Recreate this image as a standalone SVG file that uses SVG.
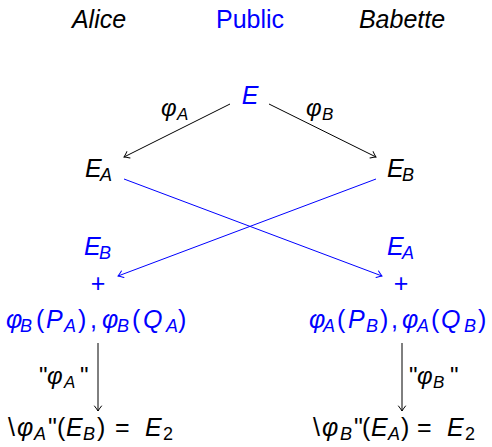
<svg xmlns="http://www.w3.org/2000/svg" width="492" height="447" viewBox="0 0 492 447">
<defs>
<marker id="ak" viewBox="-6 -5 8 10" markerWidth="8" markerHeight="10" refX="0" refY="0" orient="auto" markerUnits="userSpaceOnUse">
<path d="M-5,-3.5 Q-1.5,-0.8 0,0 Q-1.5,0.8 -5,3.5" fill="none" stroke="#000" stroke-width="1" stroke-linecap="round"/>
</marker>
<marker id="ab" viewBox="-6 -5 8 10" markerWidth="8" markerHeight="10" refX="0" refY="0" orient="auto" markerUnits="userSpaceOnUse">
<path d="M-5,-3.5 Q-1.5,-0.8 0,0 Q-1.5,0.8 -5,3.5" fill="none" stroke="#0000ff" stroke-width="1" stroke-linecap="round"/>
</marker>
</defs>
<style>
text{font-family:"Liberation Sans",Arial,sans-serif;font-size:25px}
.t{font-style:italic}
.m{font-style:italic}
.blue{fill:#0000ff}
.lbl{font-size:24px;font-style:italic}
.s{font-size:18px}
.ls{font-size:17px}
.u{font-style:normal}
.k{stroke:#000;stroke-width:1;fill:none}
.b{stroke:#0000ff;stroke-width:1;fill:none}
</style>
<rect width="492" height="447" fill="#fff"/>
<g id="headers">
<text class="t" x="99" y="28" text-anchor="middle">Alice</text>
<text class="blue" x="250" y="28" text-anchor="middle">Public</text>
<text class="t" x="402" y="28" text-anchor="middle">Babette</text>
</g>
<g id="connectors">
<line class="k" x1="230" y1="104" x2="124" y2="157" marker-end="url(#ak)"/>
<line class="k" x1="269" y1="104" x2="376" y2="157" marker-end="url(#ak)"/>
<line class="b" x1="124" y1="179" x2="382" y2="276" marker-end="url(#ab)"/>
<line class="b" x1="376" y1="179" x2="118" y2="276" marker-end="url(#ab)"/>
<line class="k" x1="98" y1="343" x2="98" y2="411" marker-end="url(#ak)"/>
<line class="k" x1="402" y1="343" x2="402" y2="411" marker-end="url(#ak)"/>
</g>
<g id="edge-labels">
<text class="lbl" y="116"><tspan x="161">φ</tspan><tspan class="ls" x="177" y="120">A</tspan></text>
<text class="lbl" y="116"><tspan x="306">φ</tspan><tspan class="ls" x="322" y="120">B</tspan></text>
<text class="lbl" y="384"><tspan class="u" x="39">"</tspan><tspan x="47">φ</tspan><tspan class="ls" x="64" y="388">A</tspan><tspan class="u" x="80" y="384">"</tspan></text>
<text class="lbl" y="384"><tspan class="u" x="409">"</tspan><tspan x="417">φ</tspan><tspan class="ls" x="433" y="388">B</tspan><tspan class="u" x="450" y="384">"</tspan></text>
</g>
<g id="node-E">
<text class="m blue" x="250" y="104" text-anchor="middle">E</text>
</g>
<g id="node-EA">
<text class="m" y="177"><tspan x="85">E</tspan><tspan class="s" x="100" y="181">A</tspan></text>
</g>
<g id="node-EB">
<text class="m" y="177"><tspan x="387">E</tspan><tspan class="s" x="402" y="181">B</tspan></text>
</g>
<g id="node-left-public">
<text class="m blue" y="255"><tspan x="84">E</tspan><tspan class="s" x="99" y="259">B</tspan></text>
<text class="blue" x="98" y="292" text-anchor="middle">+</text>
<text class="m blue" y="328"><tspan x="6">φ</tspan><tspan class="s" x="20" y="332">B</tspan><tspan class="u" x="36" y="328">(</tspan><tspan x="46">P</tspan><tspan class="s" x="64" y="332">A</tspan><tspan class="u" x="78" y="328">)</tspan><tspan class="u" x="90">,</tspan><tspan x="102">φ</tspan><tspan class="s" x="117" y="332">B</tspan><tspan class="u" x="132" y="328">(</tspan><tspan x="143">Q</tspan><tspan class="s" x="166" y="332">A</tspan><tspan class="u" x="178" y="328">)</tspan></text>
</g>
<g id="node-right-public">
<text class="m blue" y="255"><tspan x="387">E</tspan><tspan class="s" x="402" y="259">A</tspan></text>
<text class="blue" x="401" y="292" text-anchor="middle">+</text>
<text class="m blue" y="328"><tspan x="309">φ</tspan><tspan class="s" x="323" y="332">A</tspan><tspan class="u" x="337" y="328">(</tspan><tspan x="348">P</tspan><tspan class="s" x="366" y="332">B</tspan><tspan class="u" x="380" y="328">)</tspan><tspan class="u" x="391">,</tspan><tspan x="402">φ</tspan><tspan class="s" x="417" y="332">A</tspan><tspan class="u" x="431" y="328">(</tspan><tspan x="441">Q</tspan><tspan class="s" x="464" y="332">B</tspan><tspan class="u" x="478" y="328">)</tspan></text>
</g>
<g id="node-left-result">
<text class="m" y="436"><tspan class="u" x="8">\</tspan><tspan x="17">φ</tspan><tspan class="s" x="34" y="440">A</tspan><tspan class="u" x="48" y="436">"</tspan><tspan class="u" x="57">(</tspan><tspan x="66">E</tspan><tspan class="s" x="83" y="440">B</tspan><tspan class="u" x="97" y="436">)</tspan><tspan class="u" x="115">=</tspan><tspan x="145">E</tspan><tspan class="s u" x="163" y="440">2</tspan></text>
</g>
<g id="node-right-result">
<text class="m" y="436"><tspan class="u" x="313">\</tspan><tspan x="322">φ</tspan><tspan class="s" x="340" y="440">B</tspan><tspan class="u" x="354" y="436">"</tspan><tspan class="u" x="362">(</tspan><tspan x="371">E</tspan><tspan class="s" x="388" y="440">A</tspan><tspan class="u" x="401" y="436">)</tspan><tspan class="u" x="417">=</tspan><tspan x="447">E</tspan><tspan class="s u" x="465" y="440">2</tspan></text>
</g>
</svg>
